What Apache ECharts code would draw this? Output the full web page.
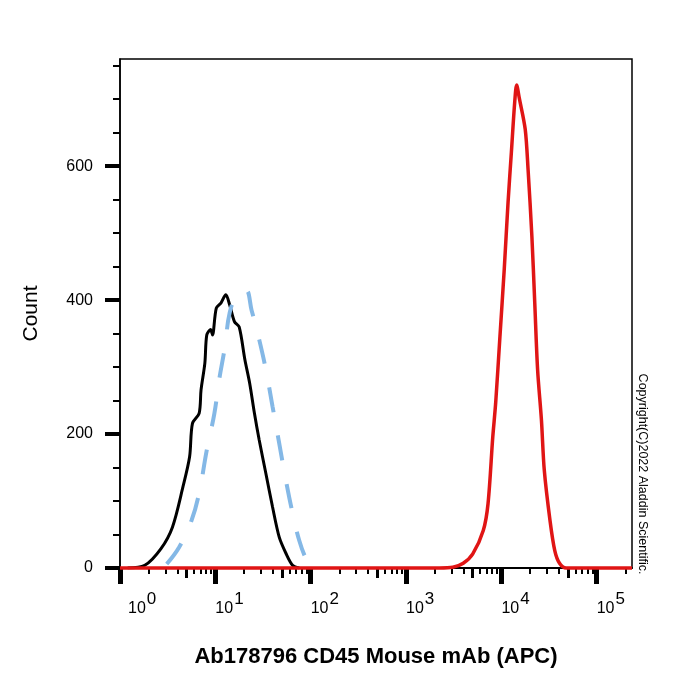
<!DOCTYPE html>
<html>
<head>
<meta charset="utf-8">
<script src="https://cdn.jsdelivr.net/npm/echarts@6/dist/echarts.min.js"></script>
<style>
  html, body { margin: 0; padding: 0; background: #fff; }
  #chart { width: 700px; height: 700px; }
</style>
</head>
<body>
<div id="chart"></div>
<script>
// x values are log10 of intensity (decade exponent), y values are counts
const blankX = [0.08, 0.26, 0.43, 0.55, 0.66, 0.73, 0.76, 0.83, 0.85, 0.89, 0.91, 0.95, 0.97, 1.01, 1.06, 1.11, 1.15, 1.20, 1.25, 1.31, 1.36, 1.41, 1.46, 1.53, 1.60, 1.67, 1.74, 1.81, 1.88];
const blankY = [0, 4, 29, 61, 121, 166, 216, 231, 266, 306, 348, 356, 348, 388, 396, 408, 393, 368, 360, 311, 276, 231, 191, 141, 91, 46, 22, 4, 0];

const isotypeX = [0.49, 0.62, 0.75, 0.83, 0.91, 0.99, 1.04, 1.10, 1.15, 1.22, 1.32, 1.38, 1.46, 1.53, 1.60, 1.67, 1.74, 1.81, 1.88, 1.95, 1.99];
const isotypeY = [6, 31, 71, 112, 176, 231, 281, 330, 381, 405, 415, 385, 341, 296, 241, 186, 131, 82, 41, 14, 7];

const cd45X = [0, 3.35, 3.49, 3.60, 3.70, 3.81, 3.86, 3.91, 3.94, 3.985, 4.03, 4.07, 4.105, 4.14, 4.16, 4.19, 4.25, 4.28, 4.32, 4.35, 4.38, 4.42, 4.45, 4.51, 4.56, 4.61, 4.68, 5.37];
const cd45Y = [0, 0, 1, 7, 21, 56, 96, 196, 246, 346, 446, 546, 621, 696, 721, 700, 655, 595, 495, 396, 296, 221, 146, 71, 26, 7, 0, 0];

// axis ticks
const decades = [0, 1, 2, 3, 4, 5];
const yTicks = [0, 200, 400, 600];
const yMinorTicks = [50, 100, 150, 250, 300, 350, 450, 500, 550, 650, 700, 750];

const xMin = 0, xMax = 5.37, yMax = 760;
const font = "'Liberation Sans', Arial, sans-serif";

// medium tick at 5 of every decade, small ticks at 2,3,4,6,7,8,9
const fiveTicks = [];
const minorTicks = [];
decades.forEach(function (d) {
  [2, 3, 4, 5, 6, 7, 8, 9].forEach(function (k) {
    const v = d + Math.log10(k);
    if (v > xMax) return;
    if (k === 5) fiveTicks.push(v);
    else minorTicks.push(v);
  });
});

function pairs(xs, ys) {
  return xs.map(function (x, i) { return [x, ys[i]]; });
}

const chart = echarts.init(document.getElementById("chart"));

function extraX(values, len, width) {
  return {
    type: "value", min: xMin, max: xMax, position: "bottom",
    axisLine: { show: false, onZero: false },
    axisTick: { show: true, customValues: values, length: len, lineStyle: { color: "#000", width: width } },
    axisLabel: { show: false },
    splitLine: { show: false }
  };
}

const option = {
  animation: false,
  backgroundColor: "#fff",
  textStyle: { fontFamily: font },
  grid: { left: 120, top: 59, right: 68, bottom: 132, show: true, borderColor: "#000", borderWidth: 1.5 },
  xAxis: [
    {
      type: "value", min: xMin, max: xMax, position: "bottom",
      name: "Ab178796 CD45 Mouse mAb (APC)",
      nameLocation: "middle", nameGap: 78,
      nameTextStyle: { fontSize: 22, fontWeight: "bold", color: "#000", fontFamily: font },
      axisLine: { show: true, onZero: false, lineStyle: { color: "#000", width: 2 } },
      axisTick: { show: true, customValues: decades, length: 16, lineStyle: { color: "#000", width: 5 } },
      axisLabel: {
        customValues: decades, margin: 23, align: "left",
        formatter: function (v) {
          return (v === 0 ? "{a0|10}" : "{a|10}") + "{b|" + v + "}";
        },
        rich: {
          a: { fontSize: 16, lineHeight: 26, verticalAlign: "bottom", color: "#000", fontFamily: font },
          a0: { fontSize: 16, lineHeight: 26, verticalAlign: "bottom", color: "#000", fontFamily: font, padding: [0, 0, 0, 8] },
          b: { fontSize: 17, lineHeight: 17, verticalAlign: "top", color: "#000", fontFamily: font, padding: [0, 0, 0, 1] }
        }
      },
      splitLine: { show: false }
    },
    extraX(fiveTicks, 10, 3),
    extraX(minorTicks, 6, 2)
  ],
  yAxis: [
    {
      type: "value", min: 0, max: yMax, position: "left",
      name: "Count", nameLocation: "middle", nameGap: 78,
      nameTextStyle: { fontSize: 21, color: "#000", fontFamily: font },
      axisLine: { show: true, onZero: false, lineStyle: { color: "#000", width: 1.5 } },
      axisTick: { show: true, customValues: yTicks, length: 15, lineStyle: { color: "#000", width: 4 } },
      axisLabel: { customValues: yTicks, fontSize: 16, margin: 27, color: "#000", fontFamily: font },
      splitLine: { show: false }
    },
    {
      type: "value", min: 0, max: yMax, position: "left",
      axisLine: { show: false, onZero: false },
      axisTick: { show: true, customValues: yMinorTicks, length: 7, lineStyle: { color: "#000", width: 2 } },
      axisLabel: { show: false },
      splitLine: { show: false }
    }
  ],
  graphic: [
    {
      type: "text", x: 642, y: 474, rotation: -Math.PI / 2,
      style: {
        text: "Copyright(C)2022 Aladdin Scientific.",
        font: "12.5px " + font, fill: "#000",
        align: "center", verticalAlign: "middle",
        textAlign: "center", textVerticalAlign: "middle"
      }
    }
  ],
  series: [
    {
      name: "Blank", type: "line", xAxisIndex: 0, yAxisIndex: 0,
      data: pairs(blankX, blankY), showSymbol: false, smooth: 0.3,
      lineStyle: { color: "#000", width: 3 }
    },
    {
      name: "Isotype", type: "line", xAxisIndex: 0, yAxisIndex: 0,
      data: pairs(isotypeX, isotypeY), showSymbol: false, smooth: 0.4,
      lineStyle: { color: "#84b8e6", width: 4, type: [25, 24] }
    },
    {
      name: "CD45", type: "line", xAxisIndex: 0, yAxisIndex: 0, clip: false,
      data: pairs(cd45X, cd45Y), showSymbol: false, smooth: 0.3,
      lineStyle: { color: "#e01515", width: 3.5 }
    }
  ]
};

chart.setOption(option);
</script>
</body>
</html>
